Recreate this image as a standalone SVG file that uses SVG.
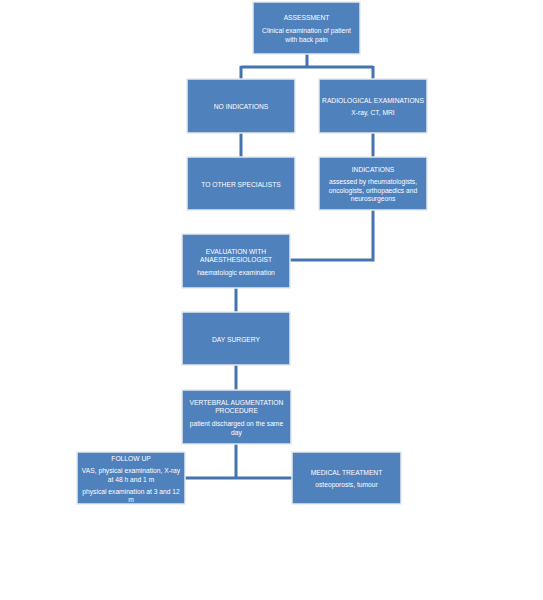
<svg xmlns="http://www.w3.org/2000/svg" width="543" height="600" viewBox="0 0 543 600">
<style>
.box{fill:#4f81bd;stroke:#e6e9ee;stroke-width:1.5}
.t{fill:#ffffff;font-family:"Liberation Sans",Arial,sans-serif;font-size:6.7px;text-anchor:middle}
.c{fill:none;stroke:#4474b0;stroke-width:3}
</style>
<rect width="543" height="600" fill="#ffffff"/>
<g id="connectors">
<path class="c" d="M307 54 V67 M241 67 H373 M241 66 V79 M373 66 V79"/>
<path class="c" d="M241 133 V157"/>
<path class="c" d="M373 133 V157"/>
<path class="c" d="M373 210 V260 H290"/>
<path class="c" d="M236 288 V312"/>
<path class="c" d="M236 365 V390"/>
<path class="c" d="M236 444 V478 M185 478 H292"/>
</g>
<g id="assessment">
<rect class="box" x="253" y="2" width="107" height="52"/>
<text class="t" x="306.5" y="20">ASSESSMENT</text>
<text class="t" x="306.5" y="33">Clinical examination of patient</text>
<text class="t" x="306.5" y="42">with back pain</text>
</g>
<g id="no-indications">
<rect class="box" x="187" y="79" width="108" height="54"/>
<text class="t" x="241" y="109">NO INDICATIONS</text>
</g>
<g id="radiological">
<rect class="box" x="319" y="79" width="108" height="54"/>
<text class="t" x="373" y="103">RADIOLOGICAL EXAMINATIONS</text>
<text class="t" x="373" y="115">X-ray, CT, MRI</text>
</g>
<g id="other-specialists">
<rect class="box" x="187" y="157" width="108" height="53"/>
<text class="t" x="241" y="187">TO OTHER SPECIALISTS</text>
</g>
<g id="indications">
<rect class="box" x="319" y="157" width="108" height="53"/>
<text class="t" x="373" y="172">INDICATIONS</text>
<text class="t" x="373" y="184">assessed by rheumatologists,</text>
<text class="t" x="373" y="193">oncologists, orthopaedics and</text>
<text class="t" x="373" y="201">neurosurgeons</text>
</g>
<g id="evaluation">
<rect class="box" x="182" y="234" width="108" height="54"/>
<text class="t" x="236" y="254">EVALUATION WITH</text>
<text class="t" x="236" y="262">ANAESTHESIOLOGIST</text>
<text class="t" x="236" y="275">haematologic examination</text>
</g>
<g id="day-surgery">
<rect class="box" x="182" y="312" width="108" height="53"/>
<text class="t" x="236" y="342">DAY SURGERY</text>
</g>
<g id="vertebral">
<rect class="box" x="182" y="390" width="109" height="54"/>
<text class="t" x="236.5" y="405">VERTEBRAL AUGMENTATION</text>
<text class="t" x="236.5" y="413">PROCEDURE</text>
<text class="t" x="236.5" y="426">patient discharged on the same</text>
<text class="t" x="236.5" y="435">day</text>
</g>
<g id="follow-up">
<rect class="box" x="77" y="452" width="108" height="52"/>
<text class="t" x="131" y="461">FOLLOW UP</text>
<text class="t" x="131" y="473">VAS, physical examination, X-ray</text>
<text class="t" x="131" y="481.5">at 48 h and 1 m</text>
<text class="t" x="131" y="494">physical examination at 3 and 12</text>
<text class="t" x="131" y="502">m</text>
</g>
<g id="medical-treatment">
<rect class="box" x="292" y="452" width="109" height="52"/>
<text class="t" x="346.5" y="475">MEDICAL TREATMENT</text>
<text class="t" x="346.5" y="487">osteoporosis, tumour</text>
</g>
</svg>
